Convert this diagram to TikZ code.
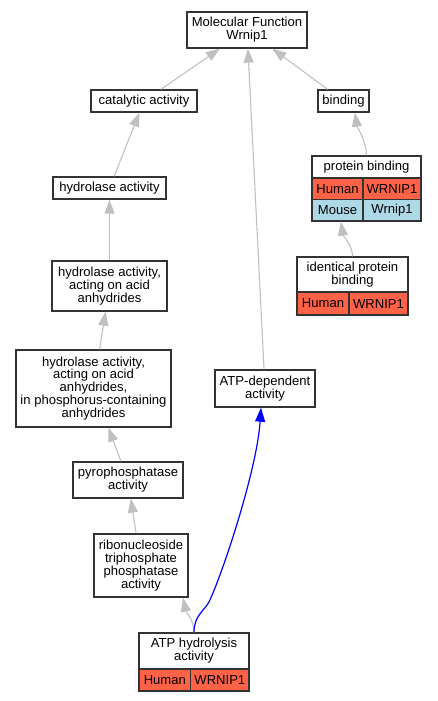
\documentclass[tikz,border=0pt]{standalone}
\usepackage{fontspec}
\setmainfont{Liberation Sans}
\usetikzlibrary{arrows.meta}
\definecolor{edgegray}{HTML}{C0C0C0}
\definecolor{tomatoc}{HTML}{FF6347}
\definecolor{lbluec}{HTML}{ADD8E6}
\definecolor{boxline}{HTML}{333333}
\begin{document}
\begin{tikzpicture}[x=0.75pt,y=-0.75pt,
 box/.style={draw=boxline, line width=1pt, fill=white, inner sep=0pt, align=center, font=\fontsize{9.8}{9.7}\selectfont},
 sz/.style 2 args={minimum width=#1*0.75pt, minimum height=#2*0.75pt},
 human/.style={box, fill=tomatoc},
 mouse/.style={box, fill=lbluec},
 isa/.style={draw=edgegray, line width=0.8pt, -{Triangle[length=10.5pt,width=7.5pt]}},
 rel/.style={draw=blue, line width=0.9pt, -{Triangle[length=10.5pt,width=7.5pt]}}]
\useasboundingbox (0,0) rectangle (437,701);
\fill[white] (0,0) rectangle (437,701);
% nodes
\node[box, sz={120}{36}] (mf) at (247,30) {Molecular Function\\Wrnip1};
\node[box, sz={106}{22}] (cat) at (144,101) {catalytic activity};
\node[box, sz={51}{22}] (bind) at (343.5,101) {binding};
\node[box, sz={113}{22}] (hydro) at (109.5,188) {hydrolase activity};
\node[box, sz={115}{50}] (acid) at (109.5,286) {hydrolase activity,\\acting on acid\\anhydrides};
\node[box, sz={155}{77}] (phos) at (93.5,388.5) {hydrolase activity,\\acting on acid\\anhydrides,\\in phosphorus-containing\\anhydrides};
\node[box, sz={110}{36}] (pyro) at (128,480) {pyrophosphatase\\activity};
\node[box, sz={94}{63}] (ribo) at (141,565.5) {ribonucleoside\\triphosphate\\phosphatase\\activity};
\node[box, sz={100}{37}] (atpdep) at (265,388.5) {ATP-dependent\\activity};
% ATP hydrolysis table
\node[box, sz={110}{36}] (atph) at (194,651) {ATP hydrolysis\\activity};
\node[human, sz={51.7}{22}] (atphh) at (164.85,680) {Human};
\node[human, sz={58.3}{22}] (atphg) at (219.85,680) {WRNIP1};
% protein binding table
\node[box, sz={109}{22}] (prot) at (366.5,167) {protein binding};
\node[human, sz={51}{21.5}] (proth) at (337.5,188.75) {Human};
\node[human, sz={58}{21.5}] (protg) at (392,188.75) {WRNIP1};
\node[mouse, sz={51}{21.5}] (protm) at (337.5,210.25) {Mouse};
\node[mouse, sz={58}{21.5}] (protmg) at (392,210.25) {Wrnip1};
% identical protein binding table
\node[box, sz={111}{35}] (ident) at (352.5,274.5) {identical protein\\binding};
\node[human, sz={52}{23}] (identh) at (323,303.5) {Human};
\node[human, sz={59}{23}] (identg) at (378.5,303.5) {WRNIP1};
% edges
\draw[isa] (cat) -- (mf);
\draw[isa] (bind) -- (mf);
\draw[isa] (atpdep) -- (mf);
\draw[isa] (hydro) -- (cat);
\draw[isa] (acid) -- (hydro);
\draw[isa] (phos) -- (acid);
\draw[isa] (pyro) -- (phos);
\draw[isa] (ribo) -- (pyro);
\draw[isa] (atph.north) .. controls +(0,-12) and +(3,14) .. ([xshift=31.5pt]ribo.south);
\draw[rel] (atph.north) .. controls +(0,-16) and +(-6,10) .. (209,602) .. controls (222,575) and (257,470) .. ([xshift=-3pt]atpdep.south);
\draw[isa] (prot.north) .. controls +(0,-14) and +(2,14) .. ([xshift=8.6pt]bind.south);
\draw[isa] (ident.north) .. controls +(0,-11) and +(2,14) .. ([xshift=2.6pt]protm.south);
\end{tikzpicture}
\end{document}
